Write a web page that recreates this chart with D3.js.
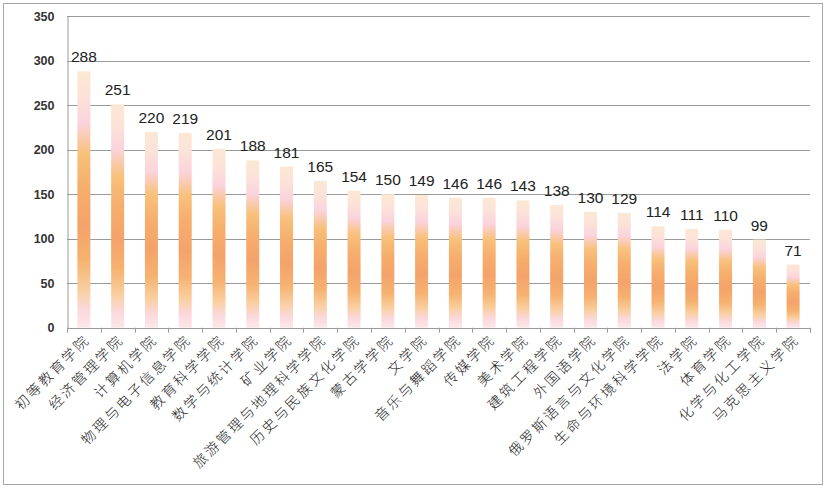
<!DOCTYPE html>
<html><head><meta charset="utf-8">
<script src="https://cdn.jsdelivr.net/npm/d3@7"></script>
<style>
html,body{margin:0;padding:0;background:#fff;}
svg{display:block;}
</style></head>
<body><svg id="chart" width="828" height="488"></svg>
<script>
const categories = ["初等教育学院","经济管理学院","计算机学院","物理与电子信息学院","教育科学学院","数学与统计学院","矿业学院","旅游管理与地理科学学院","历史与民族文化学院","蒙古学学院","文学院","音乐与舞蹈学院","传媒学院","美术学院","建筑工程学院","外国语学院","俄罗斯语言与文化学院","生命与环境科学学院","法学院","体育学院","化学与化工学院","马克思主义学院"];
const values = [288,251,220,219,201,188,181,165,154,150,149,146,146,143,138,130,129,114,111,110,99,71];
const yTicks = [0,50,100,150,200,250,300,350];

(function(){
const svg = d3.select("#chart");
const mLeft = 67, mRight = 810, mTop = 16.2, mBottom = 327.7;

svg.append("rect").attr("x",3.5).attr("y",3.5).attr("width",819).attr("height",481)
  .attr("fill","#fff").attr("stroke","#a6a6a6").attr("stroke-width",1);

const defs = svg.append("defs");
const grad = defs.append("linearGradient").attr("id","barGrad")
  .attr("x1",0).attr("y1",0).attr("x2",0).attr("y2",1);
[[0,"#fbe8d4"],[0.1,"#fce2d8"],[0.2,"#fbd3dd"],[0.32,"#f8c17c"],[0.45,"#f6ae6d"],[0.6,"#f4a36a"],[0.74,"#f6b271"],[0.85,"#f9cf9f"],[0.93,"#fbd8dc"],[1,"#fde7ea"]]
  .forEach(([o,c])=>grad.append("stop").attr("offset",o).attr("stop-color",c));

const y = d3.scaleLinear().domain([0,350]).range([mBottom, mTop]);
const x = d3.scaleBand().domain(categories).range([mLeft, mRight]).paddingInner(0.615).paddingOuter(0.3075);
const step = x.step();

svg.append("g").selectAll("line").data(yTicks.filter(d=>d>0)).join("line")
  .attr("x1",mLeft).attr("x2",mRight)
  .attr("y1",d=>Math.round(y(d))+0.5).attr("y2",d=>Math.round(y(d))+0.5)
  .attr("stroke","#9a9a9a").attr("stroke-width",1);

const yAxis = d3.axisLeft(y).tickValues(yTicks).tickSize(0).tickPadding(13);
const gy = svg.append("g").attr("transform",`translate(${mLeft+0.5},0)`).call(yAxis);
gy.select(".domain").attr("stroke","#9a9a9a");
gy.selectAll("text").attr("font-family","'Liberation Sans', Arial, sans-serif")
  .attr("font-size",12.5).attr("font-weight","bold").attr("fill","#333");

svg.append("g").selectAll("rect").data(values).join("rect")
  .attr("x",(d,i)=>x(categories[i]))
  .attr("width",x.bandwidth())
  .attr("y",d=>y(d))
  .attr("height",d=>mBottom-y(d))
  .attr("fill","url(#barGrad)");

svg.append("line").attr("x1",mLeft).attr("x2",mRight)
  .attr("y1",Math.round(mBottom)+0.5).attr("y2",Math.round(mBottom)+0.5)
  .attr("stroke","#9a9a9a");
const tickPos = d3.range(categories.length+1).map(i=>mLeft + i*step);
svg.append("g").selectAll("line").data(tickPos).join("line")
  .attr("x1",d=>Math.round(d)+0.5).attr("x2",d=>Math.round(d)+0.5)
  .attr("y1",mBottom).attr("y2",mBottom+5)
  .attr("stroke","#9a9a9a");

svg.append("g").selectAll("text").data(values).join("text")
  .attr("x",(d,i)=>x(categories[i])+x.bandwidth()/2)
  .attr("y",d=>y(d)-9)
  .attr("text-anchor","middle")
  .attr("font-family","'Liberation Sans', Arial, sans-serif")
  .attr("font-size",15.5).attr("fill","#222")
  .text(d=>d);

svg.append("g").selectAll("text").data(categories).join("text")
  .attr("transform",d=>`translate(${x(d)+x.bandwidth()/2+7},${mBottom+13}) rotate(-45)`)
  .attr("text-anchor","end")
  .attr("font-family","'Noto Sans CJK SC', sans-serif")
  .attr("font-size",14).attr("font-weight",300)
  .attr("letter-spacing","2.5px")
  .attr("fill","#222")
  .text(d=>d);
})();
</script></body></html>
